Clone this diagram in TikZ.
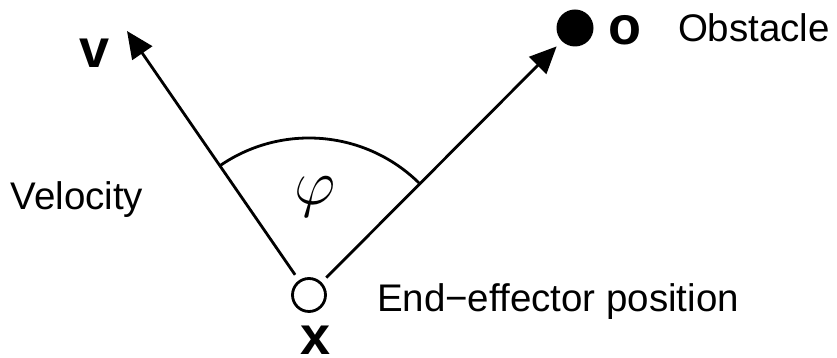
\documentclass[tikz,border=0pt]{standalone}
\usepackage{fontspec}
\setmainfont{Liberation Sans}
\usetikzlibrary{arrows.meta}
\tikzset{
  lbl/.style={inner sep=0pt, outer sep=0pt, font=\fontsize{19.25}{23}\selectfont},
  bold/.style={inner sep=0pt, outer sep=0pt, font=\fontsize{27}{32}\selectfont\bfseries},
  conn/.style={line width=1.4pt, -{Triangle[length=13.5pt, width=12pt]}},
}
\begin{document}
\begin{tikzpicture}[x=0.5pt, y=0.5pt]
\useasboundingbox (0,0) rectangle (837,358);
% end-effector
\node[draw, circle, line width=1.4pt, minimum size=16.5pt, inner sep=0pt, outer sep=4pt] (X) at (309,63) {};
% obstacle
\node[fill=black, circle, minimum size=18.5pt, inner sep=0pt, outer sep=3.75pt] (O) at (575,330) {};
\coordinate (V) at (127,327);
% arrows
\draw[conn] (X) -- (V);
\draw[conn] (X) -- (O);
% angle arc
\draw[line width=1.4pt] ([shift={(45:78.5pt)}]X.center) arc[start angle=45, end angle=124.6, radius=78.5pt];
\node[inner sep=0pt, font=\Huge, scale=1.29] (phi) at (315,161) {$\varphi$};
% labels
\node[bold, anchor=base] (vl) at (94.5,290) {v};
\node[bold, anchor=base] (ol) at (625,313.5) {o};
\node[bold, anchor=base] (xl) at (316,3) {x};
\node[lbl, anchor=base west] (obst) at (678,316) {Obstacle};
\node[lbl, anchor=base west] (vel) at (10.5,148) {Velocity};
\node[lbl, anchor=base west] (ee) at (377,46.3) {End−effector position};
\end{tikzpicture}
\end{document}
